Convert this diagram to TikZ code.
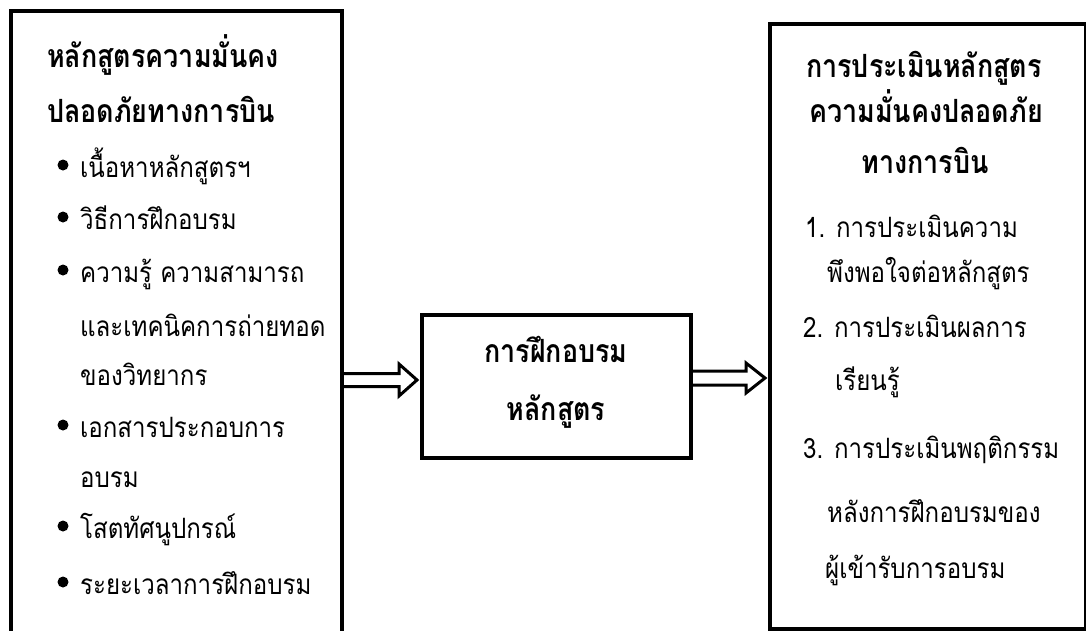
\documentclass[tikz,border=0pt]{standalone}
\usepackage{fontspec}
\newfontfamily\thai[Script=Thai, FakeStretch=0.86]{Loma}
\newfontfamily\thaib[Script=Thai, FakeStretch=0.84]{Loma}
\usetikzlibrary{calc}
\begin{document}
\begin{tikzpicture}[x=1pt,y=-1pt,
  box/.style={draw, line width=4pt, rectangle, inner sep=0pt},
  txt/.style={anchor=base west, inner sep=0pt, font=\thai\fontsize{28}{32}\selectfont},
  ttl/.style={anchor=base, inner sep=0pt, font=\thaib\bfseries\fontsize{32}{36}\selectfont},
  bul/.style={circle, fill, inner sep=0pt, minimum size=11pt},
  harrow/.style={draw, line width=3pt, miter limit=10}]
\useasboundingbox (0,0) rectangle (1086,630);
% boxes
\node[box, minimum width=331.5pt, minimum height=649.5pt] (L) at (176.25,335.25) {};
\node[box, minimum width=315.5pt, minimum height=605pt] (R) at (927.75,326.5) {};
\node[box, minimum width=269pt, minimum height=143pt] (M) at (556.5,386) {};
% left title
\node[ttl, anchor=base west] (lt1) at (47,67) {หลักสูตรความมั่นคง};
\node[ttl, anchor=base west] (lt2) at (47,122) {ปลอดภัยทางการบิน};
% bullets
\node[bul] (b1) at (63,165) {};
\node[txt] (l1) at (80,177) {เนื้อหาหลักสูตรฯ};
\node[bul] (b2) at (63,217) {};
\node[txt] (l2) at (80,229) {วิธีการฝึกอบรม};
\node[bul] (b3) at (63,270) {};
\node[txt] (l3) at (80,282) {ความรู้ ความสามารถ};
\node[txt] (l4) at (80,336) {และเทคนิคการถ่ายทอด};
\node[txt] (l5) at (80,385) {ของวิทยากร};
\node[bul] (b4) at (63,425) {};
\node[txt] (l6) at (80,437) {เอกสารประกอบการ};
\node[txt] (l7) at (80,487) {อบรม};
\node[bul] (b5) at (63,526) {};
\node[txt] (l8) at (80,538) {โสตทัศนูปกรณ์};
\node[bul] (b6) at (63,582) {};
\node[txt] (l9) at (80,594) {ระยะเวลาการฝึกอบรม};
% middle
\node[ttl] (m1) at (556,362) {การฝึกอบรม};
\node[ttl] (m2) at (556,420) {หลักสูตร};
% right title
\node[ttl] (rt1) at (924,77) {การประเมินหลักสูตร};
\node[ttl] (rt2) at (926,122) {ความมั่นคงปลอดภัย};
\node[ttl] (rt3) at (925,173) {ทางการบิน};
% right items
\node[txt] (r1) at (805,237) {1. การประเมินความ};
\node[txt] (r2) at (827,282) {พึงพอใจต่อหลักสูตร};
\node[txt] (r3) at (803,337) {2. การประเมินผลการ};
\node[txt] (r4) at (835,390) {เรียนรู้};
\node[txt] (r5) at (803,458) {3. การประเมินพฤติกรรม};
\node[txt] (r6) at (827,522) {หลังการฝึกอบรมของ};
\node[txt] (r7) at (825,578) {ผู้เข้ารับการอบรม};
% arrows
\coordinate (ls) at ($(L.east |- M.west)+(0,-6)$);
\coordinate (le) at ($(M.west)+(-3,-6)$);
\draw[harrow] ($(ls)+(0,-6.5)$) -- ($(le)+(-18,-6.5)$) -- ($(le)+(-18,-16)$) -- (le)
  -- ($(le)+(-18,16)$) -- ($(le)+(-18,6.5)$) -- ($(ls)+(0,6.5)$);
\coordinate (rs) at ($(M.east)+(0,-8)$);
\coordinate (re) at ($(R.west |- rs)+(-3,0)$);
\draw[harrow] ($(rs)+(0,-7)$) -- ($(re)+(-19,-7)$) -- ($(re)+(-19,-15)$) -- (re)
  -- ($(re)+(-19,15)$) -- ($(re)+(-19,7)$) -- ($(rs)+(0,7)$);
\end{tikzpicture}
\end{document}
